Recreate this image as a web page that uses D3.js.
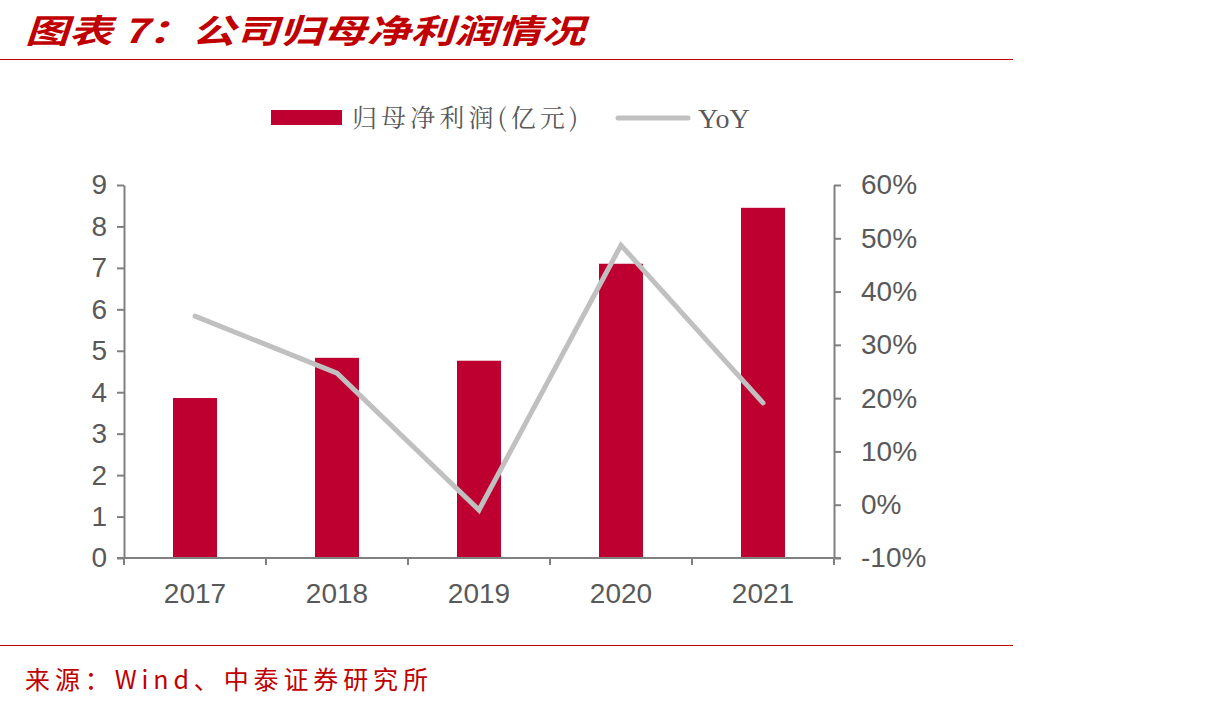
<!DOCTYPE html>
<html>
<head>
<meta charset="utf-8">
<script src="https://cdn.jsdelivr.net/npm/d3@7"></script>
<style>
  body { margin: 0; background: #fff; }
  svg { display: block; }
</style>
</head>
<body>
<div id="chart"></div>
<script>
// データ
const years = ['2017', '2018', '2019', '2020', '2021'];
const profit = [3.86, 4.83, 4.76, 7.10, 8.45];   // 归母净利润(亿元)
const yoy = [0.354, 0.247, -0.010, 0.487, 0.191]; // YoY
const leftTicks = [0, 1, 2, 3, 4, 5, 6, 7, 8, 9];
const rightTicks = [-0.1, 0, 0.1, 0.2, 0.3, 0.4, 0.5, 0.6];

const svgWidth = 1217;
const svgHeight = 709;
const svg = d3.select('#chart')
  .append('svg')
  .attr('width', svgWidth)
  .attr('height', svgHeight);

const red = '#c00000';
const barColor = '#be0030';
const axisColor = '#808080';
const textColor = '#595959';
const cjk = '"Noto Sans CJK SC", sans-serif';

// タイトル
svg.append('text')
  .attr('x', 25)
  .attr('y', 43)
  .attr('fill', red)
  .attr('font-family', cjk)
  .attr('font-size', 33)
  .attr('font-weight', 'bold')
  .attr('font-style', 'italic')
  .attr('textLength', 560)
  .attr('lengthAdjust', 'spacingAndGlyphs')
  .text('图表 7：公司归母净利润情况');

svg.append('line')
  .attr('x1', 0).attr('x2', 1013)
  .attr('y1', 59.5).attr('y2', 59.5)
  .attr('stroke', red).attr('stroke-width', 1.2);

svg.append('line')
  .attr('x1', 0).attr('x2', 1013)
  .attr('y1', 645.5).attr('y2', 645.5)
  .attr('stroke', red).attr('stroke-width', 1.2);

svg.append('text')
  .attr('x', 25)
  .attr('y', 689)
  .attr('fill', red)
  .attr('font-family', cjk)
  .attr('font-size', 25)
  .attr('textLength', 403)
  .attr('lengthAdjust', 'spacing')
  .text('来源：Wind、中泰证券研究所');

// グラフ領域
const x0 = 124, x1 = 834, yTop = 185, yBottom = 558;

const x = d3.scaleBand()
  .domain(years)
  .range([x0, x1])
  .paddingInner(0)
  .paddingOuter(0);

const yL = d3.scaleLinear().domain([0, 9]).range([yBottom, yTop]);
const yR = d3.scaleLinear().domain([-0.1, 0.6]).range([yBottom, yTop]);

const barW = 44;

// bars
svg.append('g')
  .selectAll('rect')
  .data(profit)
  .join('rect')
  .attr('x', (d, i) => x(years[i]) + x.bandwidth() / 2 - barW / 2)
  .attr('y', d => yL(d))
  .attr('width', barW)
  .attr('height', d => yBottom - yL(d))
  .attr('fill', barColor);

// line
const line = d3.line()
  .x((d, i) => x(years[i]) + x.bandwidth() / 2)
  .y(d => yR(d));

svg.append('path')
  .datum(yoy)
  .attr('d', line)
  .attr('fill', 'none')
  .attr('stroke', '#c0c0c0')
  .attr('stroke-width', 5)
  .attr('stroke-linejoin', 'miter')
  .attr('stroke-linecap', 'round');

// axes
const tickFont = 28;
function styleAxis(g) {
  g.select('.domain').attr('stroke', axisColor).attr('stroke-width', 2);
  g.selectAll('.tick line').attr('stroke', axisColor).attr('stroke-width', 2);
  g.selectAll('.tick text')
    .attr('fill', textColor)
    .attr('font-family', 'Liberation Sans, Arial, sans-serif')
    .attr('font-size', tickFont);
}

svg.append('g')
  .attr('transform', `translate(${x0},0)`)
  .call(d3.axisLeft(yL).tickValues(leftTicks).tickSize(7).tickSizeOuter(0).tickPadding(10))
  .call(styleAxis);

svg.append('g')
  .attr('transform', `translate(${x1},0)`)
  .call(d3.axisRight(yR).tickValues(rightTicks).tickSize(7).tickSizeOuter(0).tickPadding(20)
    .tickFormat(d3.format('.0%')))
  .call(styleAxis)
  .call(g => g.selectAll('.tick text').text(d => d3.format('.0%')(d).replace('−', '-')));

const xTickPos = [x0].concat(years.map(d => x(d) + x.bandwidth()));
const xAxis = svg.append('g')
  .attr('transform', `translate(0,${yBottom})`);
xAxis.append('line')
  .attr('x1', x0 - 7).attr('x2', x1 + 7)
  .attr('stroke', axisColor).attr('stroke-width', 2);
xAxis.selectAll('.xt')
  .data(xTickPos)
  .join('line')
  .attr('x1', d => d).attr('x2', d => d)
  .attr('y1', 0).attr('y2', 7)
  .attr('stroke', axisColor).attr('stroke-width', 2);
xAxis.selectAll('.xl')
  .data(years)
  .join('text')
  .attr('x', d => x(d) + x.bandwidth() / 2)
  .attr('y', 45)
  .attr('text-anchor', 'middle')
  .attr('fill', textColor)
  .attr('font-family', 'Liberation Sans, Arial, sans-serif')
  .attr('font-size', tickFont)
  .text(d => d);

// legend
const legend = svg.append('g');
legend.append('rect')
  .attr('x', 271).attr('y', 110)
  .attr('width', 71).attr('height', 15)
  .attr('fill', barColor);
legend.append('text')
  .attr('x', 352).attr('y', 127)
  .attr('fill', textColor)
  .attr('font-family', '"Noto Serif CJK SC", "Liberation Serif", serif')
  .attr('font-size', 25)
  .attr('textLength', 226)
  .attr('lengthAdjust', 'spacing')
  .text('归母净利润(亿元)');
legend.append('line')
  .attr('x1', 618).attr('x2', 688)
  .attr('y1', 118).attr('y2', 118)
  .attr('stroke', '#c0c0c0').attr('stroke-width', 5)
  .attr('stroke-linecap', 'round');
legend.append('text')
  .attr('x', 698).attr('y', 128)
  .attr('fill', textColor)
  .attr('font-family', '"Liberation Serif", serif')
  .attr('font-size', 28)
  .text('YoY');
</script>
</body>
</html>
